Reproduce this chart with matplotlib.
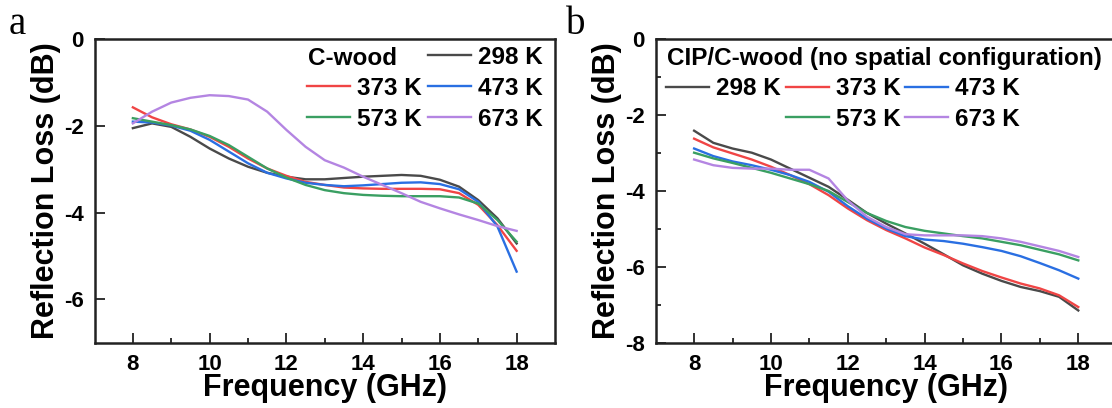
import numpy as np
import matplotlib
matplotlib.use("Agg")
import matplotlib.pyplot as plt
from matplotlib.lines import Line2D

plt.rcParams['font.family'] = ['Liberation Sans', 'DejaVu Sans']
plt.rcParams['font.weight'] = 'bold'
plt.rcParams['axes.labelweight'] = 'bold'

# frequency grid (GHz)
freq = np.arange(8.0, 18.01, 0.5)

temps = ['298 K', '373 K', '473 K', '573 K', '673 K']
colors = ['#4a4a4a', '#f04545', '#2a6fe2', '#3a9f62', '#b485e2']

# C-wood, reflection loss (dB)
cwood_298 = [-2.05, -1.94, -2.02, -2.25, -2.52, -2.75, -2.94, -3.08, -3.17, -3.23, -3.23,
             -3.20, -3.17, -3.15, -3.13, -3.15, -3.24, -3.40, -3.71, -4.13, -4.71]
cwood_373 = [-1.57, -1.80, -1.96, -2.08, -2.25, -2.48, -2.75, -2.98, -3.15, -3.29, -3.36,
             -3.42, -3.44, -3.45, -3.45, -3.45, -3.46, -3.55, -3.82, -4.29, -4.88]
cwood_473 = [-1.90, -1.92, -1.99, -2.11, -2.32, -2.59, -2.86, -3.08, -3.21, -3.31, -3.36,
             -3.39, -3.37, -3.34, -3.31, -3.30, -3.34, -3.46, -3.75, -4.32, -5.36]
cwood_573 = [-1.82, -1.90, -1.98, -2.08, -2.23, -2.44, -2.71, -2.98, -3.19, -3.36, -3.48,
             -3.55, -3.59, -3.61, -3.62, -3.62, -3.62, -3.65, -3.79, -4.17, -4.67]
cwood_673 = [-1.94, -1.67, -1.46, -1.35, -1.29, -1.31, -1.39, -1.67, -2.09, -2.48, -2.79,
             -2.96, -3.17, -3.36, -3.55, -3.75, -3.90, -4.04, -4.17, -4.31, -4.42]

# CIP/C-wood without spatial configuration
cip_298 = [-2.41, -2.73, -2.88, -2.99, -3.17, -3.41, -3.65, -3.89, -4.23, -4.58, -4.86,
           -5.12, -5.39, -5.67, -5.96, -6.18, -6.37, -6.53, -6.64, -6.79, -7.15]
cip_373 = [-2.62, -2.85, -3.01, -3.17, -3.36, -3.58, -3.82, -4.11, -4.46, -4.77, -5.03,
           -5.25, -5.49, -5.69, -5.91, -6.11, -6.28, -6.44, -6.57, -6.75, -7.06]
cip_473 = [-2.88, -3.08, -3.22, -3.32, -3.44, -3.58, -3.76, -4.02, -4.40, -4.73, -4.99,
           -5.19, -5.28, -5.32, -5.39, -5.48, -5.58, -5.72, -5.90, -6.09, -6.31]
cip_573 = [-2.99, -3.14, -3.26, -3.39, -3.52, -3.67, -3.82, -4.00, -4.29, -4.58, -4.79,
           -4.95, -5.05, -5.12, -5.19, -5.25, -5.34, -5.43, -5.55, -5.67, -5.83]
cip_673 = [-3.17, -3.32, -3.39, -3.41, -3.41, -3.44, -3.44, -3.67, -4.25, -4.68, -4.95,
           -5.14, -5.17, -5.17, -5.17, -5.19, -5.25, -5.34, -5.46, -5.58, -5.74]

xticks = [8, 10, 12, 14, 16, 18]

fig = plt.figure(figsize=(11.12, 4.08), dpi=100)
W, H = 1112.0, 408.0
ax_a = fig.add_axes([94.5 / W, (H - 342.7) / H, 460.5 / W, 303.4 / H])
ax_b = fig.add_axes([655.7 / W, (H - 342.7) / H, 461.0 / W, 303.4 / H])


def style_axis(ax, ylim, yticks):
    ax.set_xlim(7, 19)
    ax.set_ylim(*ylim)
    ax.set_xticks(xticks)
    ax.set_xticks(np.arange(9, 19, 2), minor=True)
    ax.set_yticks(yticks)
    ax.set_yticks(np.arange(ylim[0] + 1, 0, 2), minor=True)
    ax.tick_params(which='both', direction='in', top=False, right=False,
                   labelsize=16, width=1.3, color='#222222')
    ax.tick_params(which='major', length=7, pad=8)
    ax.tick_params(which='minor', length=3.5)
    for s in ax.spines.values():
        s.set_linewidth(1.8)
        s.set_color('#222222')
    ax.set_xlabel('Frequency (GHz)', fontsize=22, labelpad=-1)
    ax.set_ylabel('Reflection Loss (dB)', fontsize=22, labelpad=2)


leg_kw = dict(loc='upper left', frameon=False, fontsize=17.5, borderpad=0,
              borderaxespad=0, handlelength=1.77, handletextpad=0.29,
              labelspacing=0.32)
blank = Line2D([], [], color='none')

# panel a
series_a = [cwood_298, cwood_373, cwood_473, cwood_573, cwood_673]
lines_a = []
for y, c, t in zip(series_a, colors, temps):
    ln, = ax_a.plot(freq, y, color=c, lw=1.7, label=t)
    lines_a.append(ln)
style_axis(ax_a, (-7, 0), [-6, -4, -2, 0])
ax_a.set_yticklabels(['-6', '-4', '-2', '0'])
ax_a.legend([blank, lines_a[1], lines_a[3], lines_a[0], lines_a[2], lines_a[4]],
            ['', temps[1], temps[3], temps[0], temps[2], temps[4]],
            ncol=2, columnspacing=0.25, bbox_to_anchor=(0.4615, 0.978), **leg_kw)
ax_a.text(0.464, 0.938, 'C-wood', transform=ax_a.transAxes, fontsize=17.5,
          va='center', ha='left')

# panel b
series_b = [cip_298, cip_373, cip_473, cip_573, cip_673]
lines_b = []
for y, c, t in zip(series_b, colors, temps):
    ln, = ax_b.plot(freq, y, color=c, lw=1.7, label=t)
    lines_b.append(ln)
style_axis(ax_b, (-8, 0), [-8, -6, -4, -2, 0])
ax_b.set_yticklabels(['-8', '-6', '-4', '-2', '0'])
ax_b.legend([lines_b[0], blank, lines_b[1], lines_b[3], lines_b[2], lines_b[4]],
            [temps[0], '', temps[1], temps[3], temps[2], temps[4]],
            ncol=3, columnspacing=0.2, bbox_to_anchor=(0.0223, 0.875), **leg_kw)
ax_b.text(0.024, 0.938, 'CIP/C-wood (no spatial configuration)',
          transform=ax_b.transAxes, fontsize=17.5, va='center', ha='left')

fig.text(9 / W, 1 - 24 / H, 'a', family='Liberation Serif', weight='normal',
         fontsize=28, va='center', ha='left')
fig.text(566 / W, 1 - 24 / H, 'b', family='Liberation Serif', weight='normal',
         fontsize=28, va='center', ha='left')

fig.savefig('out.png', dpi=100, facecolor='white')
